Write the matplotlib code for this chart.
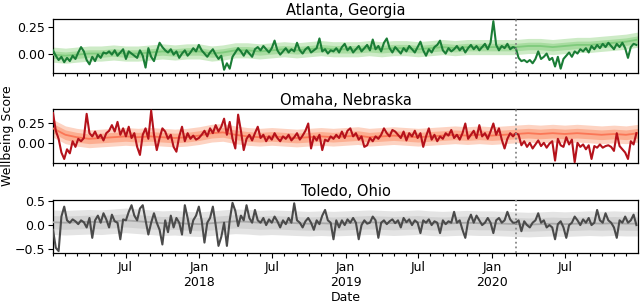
import matplotlib
matplotlib.use("Agg")
import matplotlib.pyplot as plt
import matplotlib.dates as mdates
import numpy as np
import pandas as pd

# ---------------- data ----------------
start_date = "2017-01-01"
n_weeks = 209
event_date = "2020-03-01"
cities = ["Atlanta, Georgia", "Omaha, Nebraska", "Toledo, Ohio"]

atlanta_obs = [
    0.03, -0.02, -0.06, -0.03, -0.08, -0.04, -0.07, -0.02, -0.05, 0.01, 0.06, 0.02, -0.06,
    -0.10, -0.03, -0.07, -0.01, -0.04, 0.01, 0.00, 0.02, -0.01, 0.03, -0.02, 0.01, 0.04,
    -0.05, 0.02, 0.00, -0.02, -0.04, 0.03, -0.02, -0.13, 0.05, -0.03, -0.07, 0.02, 0.10,
    0.06, 0.03, 0.01, 0.04, -0.01, 0.02, -0.04, 0.00, 0.03, -0.02, 0.01, 0.05, 0.02,
    0.08, 0.03, 0.00, -0.03, 0.01, 0.04, -0.01, -0.05, -0.02, -0.15, -0.09, -0.14, -0.03,
    0.01, 0.05, 0.02, -0.02, 0.03, 0.00, -0.03, 0.04, 0.06, 0.03, 0.07, 0.04, 0.01,
    0.05, 0.12, 0.03, -0.01, 0.02, 0.05, 0.01, 0.04, 0.02, 0.10, 0.03, 0.00, 0.04,
    0.06, 0.01, 0.03, 0.05, 0.14, 0.02, 0.04, 0.00, 0.03, 0.02, 0.05, 0.01, 0.06,
    0.09, 0.03, 0.06, 0.01, 0.04, 0.07, 0.02, 0.05, 0.08, 0.03, 0.13, 0.04, 0.07,
    0.02, 0.10, 0.14, 0.05, 0.01, 0.06, 0.03, 0.00, 0.05, 0.02, 0.07, 0.04, 0.01,
    0.06, 0.11, 0.03, -0.02, 0.04, 0.01, 0.06, 0.08, 0.12, 0.03, 0.00, 0.05, 0.02,
    0.04, 0.07, 0.03, 0.06, 0.01, 0.05, 0.08, 0.04, 0.07, 0.03, 0.06, 0.09, 0.04,
    0.10, 0.30, 0.08, 0.03, 0.07, 0.05, 0.09, 0.04, 0.06, 0.05, -0.04, -0.07, -0.06,
    -0.08, -0.06, -0.09, -0.05, 0.02, -0.05, -0.03, 0.00, -0.06, -0.04, -0.12, -0.03, -0.14,
    -0.05, -0.02, 0.01, -0.03, 0.02, 0.00, 0.04, 0.02, 0.05, 0.01, 0.07, 0.04, 0.08,
    0.05, 0.09, 0.06, 0.10, 0.07, 0.04, 0.09, 0.06, 0.10, 0.05, -0.04, 0.06, 0.09, 0.08,
]

omaha_obs = [
    0.37, 0.15, 0.05, -0.12, -0.20, -0.08, -0.13, 0.02, -0.05, 0.05, 0.02, 0.06, 0.36,
    0.12, 0.08, 0.14, 0.06, 0.10, 0.03, 0.12, 0.15, 0.22, 0.14, 0.26, 0.10, 0.18,
    0.08, 0.20, 0.06, 0.12, -0.05, -0.15, 0.10, 0.18, 0.05, 0.40, 0.10, -0.09, 0.06,
    0.18, 0.14, 0.05, 0.10, -0.05, -0.11, 0.08, 0.20, 0.02, 0.12, 0.05, 0.09, 0.04,
    0.06, 0.10, 0.15, 0.08, 0.18, 0.12, 0.22, 0.14, 0.20, 0.30, 0.10, 0.26, 0.05,
    -0.07, 0.35, 0.15, -0.09, 0.05, 0.10, 0.03, 0.12, 0.20, 0.06, 0.10, 0.02, 0.08,
    0.04, 0.12, 0.06, 0.02, 0.08, 0.05, 0.10, 0.03, 0.07, 0.12, 0.04, 0.09, 0.15,
    0.24, -0.07, 0.08, 0.03, 0.10, -0.09, 0.04, 0.02, 0.08, 0.05, 0.10, 0.06, 0.14,
    0.06, 0.15, 0.18, 0.08, 0.12, 0.04, 0.08, -0.05, -0.03, 0.06, 0.02, 0.08, 0.05,
    0.10, 0.18, 0.12, 0.08, 0.16, 0.14, 0.10, 0.06, 0.14, 0.03, 0.12, 0.08, 0.15,
    0.06, 0.12, -0.05, 0.08, 0.18, 0.04, 0.10, 0.02, 0.08, 0.05, 0.12, 0.09, 0.16,
    0.06, 0.10, 0.04, 0.12, 0.24, 0.05, 0.10, 0.15, 0.06, 0.22, 0.08, 0.12, 0.05,
    0.14, 0.24, 0.10, 0.18, 0.04, -0.07, 0.05, 0.12, 0.08, 0.12, 0.10, -0.03, 0.02,
    -0.05, 0.00, -0.07, -0.02, 0.03, -0.04, 0.00, -0.06, -0.01, 0.02, -0.22, 0.05, -0.03,
    -0.05, 0.07, -0.02, 0.04, -0.24, 0.00, -0.05, -0.02, -0.08, -0.03, -0.20, -0.04, -0.06,
    -0.02, -0.06, -0.04, -0.03, -0.05, -0.10, 0.12, -0.04, -0.08, -0.12, -0.20, 0.02, -0.02, 0.12,
]

toledo_obs = [
    -0.10, -0.48, -0.55, 0.18, 0.39, 0.10, 0.05, 0.12, 0.08, 0.02, 0.10, 0.06, -0.05,
    0.15, -0.27, 0.10, 0.20, 0.05, 0.25, 0.12, -0.05, 0.22, 0.08, 0.05, -0.30, 0.12,
    0.10, 0.28, 0.42, 0.20, 0.10, 0.35, 0.42, 0.10, -0.20, 0.05, 0.25, 0.05, -0.10,
    -0.41, 0.10, -0.15, 0.20, -0.05, 0.15, 0.05, -0.20, 0.42, 0.15, -0.17, 0.10, 0.20,
    0.39, 0.10, -0.37, 0.05, 0.15, 0.39, 0.00, -0.44, -0.25, 0.05, -0.44, 0.10, 0.47,
    0.30, -0.02, 0.20, 0.10, 0.42, 0.15, 0.05, 0.32, 0.10, 0.05, 0.15, 0.00, 0.12,
    0.05, 0.18, 0.08, -0.05, 0.10, 0.02, 0.15, 0.05, 0.46, 0.10, 0.05, -0.05, 0.08,
    0.15, 0.05, -0.10, 0.10, 0.02, 0.20, 0.32, 0.10, 0.05, -0.30, 0.10, -0.05, 0.10,
    0.00, 0.12, 0.05, 0.15, 0.05, -0.30, 0.00, 0.10, 0.03, 0.05, 0.18, 0.10, -0.27,
    0.05, 0.10, 0.02, 0.08, 0.12, 0.04, 0.10, -0.05, 0.15, 0.06, 0.12, 0.00, 0.10,
    0.05, -0.17, 0.10, 0.05, 0.12, 0.00, 0.08, 0.05, -0.17, 0.10, 0.02, 0.08, 0.05,
    0.28, 0.05, 0.10, -0.10, -0.27, 0.08, 0.22, 0.05, 0.20, 0.10, 0.00, 0.05, 0.15,
    0.05, -0.17, 0.10, 0.15, 0.05, 0.10, 0.28, 0.12, 0.05, 0.05, 0.10, -0.13, 0.08,
    0.00, -0.05, 0.05, 0.10, 0.25, 0.05, 0.10, -0.05, 0.00, -0.05, -0.30, 0.02, 0.08,
    -0.05, -0.27, 0.00, 0.05, 0.18, 0.10, 0.00, 0.12, 0.05, 0.15, 0.00, 0.05, 0.32,
    0.10, 0.05, 0.25, 0.10, 0.05, -0.05, -0.27, 0.10, 0.05, 0.18, 0.05, 0.10, 0.22, 0.00,
]

# monthly model fit / forecast (first of each month, Jan 2017 .. Jan 2021)
atlanta_fc = [
    -0.01, -0.02, -0.01, 0.00, 0.00, 0.01, 0.00, 0.00, 0.01, 0.02, 0.01, 0.02,
    0.02, 0.00, 0.01, 0.03, 0.03, 0.02, 0.03, 0.04, 0.03, 0.04, 0.05, 0.04,
    0.04, 0.04, 0.05, 0.04, 0.05, 0.05, 0.04, 0.05, 0.06, 0.05, 0.06, 0.06,
    0.06, 0.06, 0.06, 0.07, 0.07, 0.06, 0.07, 0.08, 0.08, 0.09, 0.10, 0.11, 0.13,
]
omaha_fc = [
    0.18, 0.10, 0.07, 0.05, 0.06, 0.07, 0.08, 0.07, 0.08, 0.07, 0.06, 0.07,
    0.09, 0.12, 0.13, 0.10, 0.08, 0.07, 0.08, 0.07, 0.06, 0.07, 0.08, 0.07,
    0.08, 0.09, 0.07, 0.08, 0.09, 0.08, 0.07, 0.08, 0.09, 0.10, 0.09, 0.10,
    0.09, 0.10, 0.11, 0.12, 0.11, 0.12, 0.11, 0.12, 0.11, 0.10, 0.11, 0.10, 0.12,
]
toledo_fc = [
    0.06, 0.05, 0.06, 0.07, 0.06, 0.08, 0.10, 0.08, 0.06, 0.04, 0.05, 0.03,
    0.02, 0.04, 0.06, 0.08, 0.07, 0.05, 0.06, 0.05, 0.04, 0.03, 0.04, 0.03,
    0.04, 0.05, 0.06, 0.05, 0.04, 0.05, 0.06, 0.04, 0.03, 0.04, 0.05, 0.04,
    0.04, 0.03, 0.02, 0.01, 0.02, 0.03, 0.02, 0.03, 0.04, 0.03, 0.04, 0.03, 0.03,
]
# interval half-widths (inner, outer)
atlanta_band = [0.035, 0.07]
omaha_band = [0.06, 0.11]
toledo_band = [0.14, 0.26]

y_limits = [(-0.18, 0.32), (-0.25, 0.42), (-0.59, 0.53)]
y_ticks = [[0.0, 0.25], [0.0, 0.25], [-0.5, 0.0, 0.5]]
y_fmt = ["{:.2f}", "{:.2f}", "{:.1f}"]

# ---------------- styles ----------------
styles = [
    dict(obs="#1a7d36", fc="#7fcb7c", inner="#a8dca0", outer="#cdebc6"),
    dict(obs="#b5121b", fc="#fb7656", inner="#fcae91", outer="#fdd3c2"),
    dict(obs="#4a4a4a", fc="#a8a8a8", inner="#d2d2d2", outer="#e4e4e4"),
]

weeks = pd.date_range(start_date, periods=n_weeks, freq="7D")
months = pd.date_range(start_date, periods=len(atlanta_fc), freq="MS")

obs_all = [atlanta_obs, omaha_obs, toledo_obs]
fc_all = [atlanta_fc, omaha_fc, toledo_fc]
band_all = [atlanta_band, omaha_band, toledo_band]

plt.rcParams["font.family"] = ["DejaVu Sans"]
fig = plt.figure(figsize=(6.4, 3.04), dpi=100)

W, H = 640, 304
left, right = 53, 638
boxes = [(19, 73), (109, 163), (200, 253)]

xmin = pd.Timestamp("2017-01-01")
xmax = pd.Timestamp("2020-12-31")
major = [pd.Timestamp(d) for d in ["2017-07-01", "2018-01-01", "2018-07-01", "2019-01-01",
                                    "2019-07-01", "2020-01-01", "2020-07-01"]]
major_labels = ["Jul" if d.month == 7 else "Jan\n%d" % d.year for d in major]
minor = pd.date_range("2017-01-01", "2020-12-01", freq="MS")

axes = []
for i, (top, bot) in enumerate(boxes):
    ax = fig.add_axes([left / W, 1 - bot / H, (right - left) / W, (bot - top) / H])
    axes.append(ax)
    st = styles[i]
    fc = np.array(fc_all[i])
    inner, outer = band_all[i]
    ax.fill_between(months, fc - outer, fc + outer, color=st["outer"], lw=0, zorder=1)
    ax.fill_between(months, fc - inner, fc + inner, color=st["inner"], lw=0, zorder=2)
    ax.plot(months, fc, color=st["fc"], lw=1.3, zorder=3)
    ax.plot(weeks, obs_all[i], color=st["obs"], lw=1.5, zorder=4)
    ax.axvline(pd.Timestamp(event_date), color="#888888", ls=(0, (1, 1.6)), lw=1.3, zorder=5)
    ax.set_title(cities[i], fontsize=10.5, pad=3)
    ax.set_xlim(xmin, xmax)
    ax.set_ylim(*y_limits[i])
    ax.set_yticks(y_ticks[i])
    ax.set_yticklabels([y_fmt[i].format(v).replace("-", "\u2212") for v in y_ticks[i]])
    ax.set_xticks(mdates.date2num(major))
    ax.set_xticks(mdates.date2num(minor), minor=True)
    if i == 2:
        ax.set_xticklabels(major_labels)
        ax.set_xlabel("Date", fontsize=9, labelpad=2)
    else:
        ax.set_xticklabels([])
    ax.tick_params(axis="both", which="major", labelsize=9, length=3.5, width=0.8, pad=2)
    ax.tick_params(axis="x", which="minor", length=2, width=0.8)
    for s in ax.spines.values():
        s.set_linewidth(0.9)

fig.text(8 / W, 1 - 136 / H, "Wellbeing Score", rotation=90, va="center", ha="center", fontsize=9)

fig.savefig("out.png", dpi=100)
